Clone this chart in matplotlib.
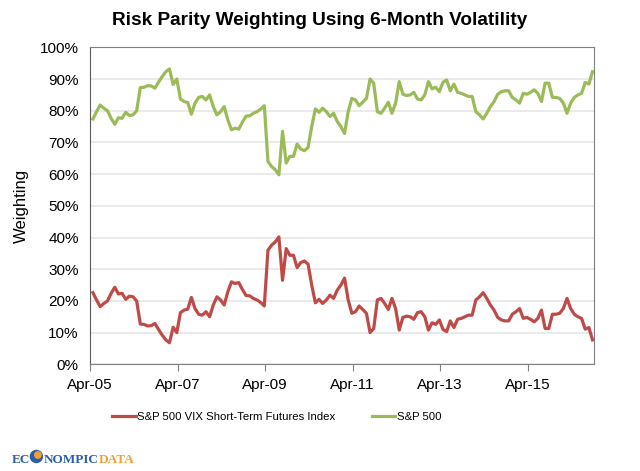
import numpy as np
import matplotlib
matplotlib.use("Agg")
import matplotlib.pyplot as plt
from matplotlib.patches import Circle

plt.rcParams['font.family'] = ['Liberation Sans', 'DejaVu Sans']

# monthly weights of the VIX futures index (%), Apr-05 .. Sep-16
vix_w = [22.6, 20.3, 18.2, 19.2, 20.0, 22.4, 24.3, 22.2, 22.4, 20.5,
         21.5, 21.3, 20.0, 12.7, 12.6, 12.1, 12.2, 12.9, 11.0, 9.2,
         7.7, 6.8, 11.7, 10.0, 16.3, 17.1, 17.4, 21.1, 17.6, 15.8,
         15.5, 16.6, 15.0, 18.7, 21.3, 20.3, 18.7, 22.9, 26.0, 25.5,
         25.8, 23.6, 21.7, 21.6, 20.8, 20.3, 19.5, 18.4, 36.0, 37.6,
         38.6, 40.2, 26.5, 36.5, 34.4, 34.4, 30.5, 32.1, 32.6, 31.6,
         25.0, 19.4, 20.5, 19.2, 20.3, 21.8, 20.8, 23.4, 25.0, 27.2,
         20.3, 16.1, 16.6, 18.4, 17.3, 16.1, 10.0, 11.3, 20.3, 20.8,
         19.2, 17.3, 20.8, 17.6, 10.8, 14.8, 15.2, 15.0, 14.2, 16.3,
         16.6, 15.0, 10.8, 13.1, 12.6, 14.0, 11.0, 10.3, 13.7, 11.6,
         14.2, 14.5, 15.0, 15.5, 15.5, 20.3, 21.3, 22.6, 20.8, 18.7,
         17.1, 14.8, 14.0, 13.7, 13.7, 15.8, 16.6, 17.6, 14.5, 14.8,
         14.2, 13.4, 14.5, 17.1, 11.3, 11.3, 15.8, 15.8, 16.1, 17.6,
         20.8, 17.6, 15.8, 15.0, 14.5, 11.1, 11.6, 7.7]
# two-asset portfolio, so S&P 500 gets the rest
spx_w = [100 - v for v in vix_w]

tick_labels = ["Apr-05", "Apr-07", "Apr-09", "Apr-11", "Apr-13", "Apr-15"]
tick_months = [0, 24, 48, 72, 96, 120]

red = "#BE4B48"
green = "#9BBB59"
blue_logo = "#2B5DAB"
orange_logo = "#F0A130"

fig = plt.figure(figsize=(6.4, 4.71), dpi=100)
ax = fig.add_axes([0.1406, 0.2265, 0.7875, 0.673])

x = np.arange(len(vix_w)) + 0.8
ax.plot(x, vix_w, color=red, lw=2.3, label="S&P 500 VIX Short-Term Futures Index")
ax.plot(x, spx_w, color=green, lw=2.3, label="S&P 500")

ax.set_xlim(0, 138.2)
ax.set_ylim(0, 100)
ax.set_yticks(range(0, 101, 10))
ax.set_yticklabels([f"{v}%" for v in range(0, 101, 10)], fontsize=11)
ax.set_xticks(tick_months)
ax.set_xticklabels(tick_labels, fontsize=11)
ax.tick_params(axis='y', length=0, pad=8)
ax.tick_params(axis='x', direction='out', length=5, color='#808080', pad=5)
ax.grid(axis='y', color='#e6e6e6', lw=1.2)
ax.set_axisbelow(True)
for s in ax.spines.values():
    s.set_color('#808080')
ax.spines['left'].set_color('#595959')

ax.set_ylabel("Weighting", fontsize=12, labelpad=8)
fig.suptitle("Risk Parity Weighting Using 6-Month Volatility", fontsize=13.7,
             fontweight='bold', x=0.5, y=0.975)

fig.legend(loc='center', bbox_to_anchor=(0.432, 0.115), ncol=2, frameon=False,
           fontsize=8.2, handlelength=2.1, handletextpad=0.1, columnspacing=3.2)

# logo
renderer = fig.canvas.get_renderer()
xpos = 12 / 640
ypos = 1 - 463 / 471
parts = [("EC", blue_logo), ("O", None), ("NOMPIC", blue_logo), ("DATA", orange_logo)]
for txt, col in parts:
    if col is None:
        # globe in place of the O
        r = 6.0
        cx, cy = fig.transFigure.transform((xpos, ypos))
        cx += r
        cy += 6.5
        fig.patches.append(Circle((cx, cy), r, transform=None, color=blue_logo, zorder=5))
        fig.patches.append(Circle((cx + 1.5, cy + 1.5), 3.2, transform=None, color=orange_logo, zorder=6))
        xpos += (2 * r + 1) / 640
        continue
    t = fig.text(xpos, ypos, txt, color=col, fontsize=9.5, fontweight='bold',
                 family='Liberation Serif', ha='left', va='baseline')
    bb = t.get_window_extent(renderer)
    xpos = bb.x1 / 640

fig.savefig("out.png", dpi=100)
